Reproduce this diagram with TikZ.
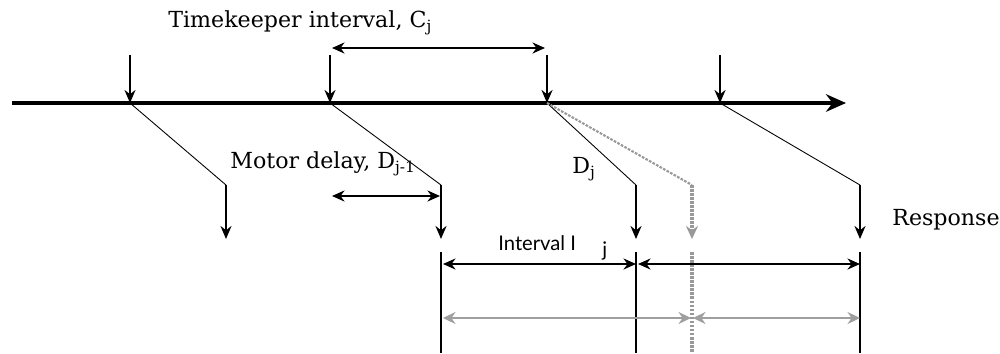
\documentclass[tikz,border=0pt]{standalone}
\usepackage{fontspec}
\setmainfont{DejaVu Serif}
\newfontfamily\labelsans{Lato}
\usepackage{tikz}
\usetikzlibrary{arrows.meta,positioning}

\begin{document}
\begin{tikzpicture}[
  x=0.02cm, y=-0.02cm,
  every node/.style={inner sep=0pt, font=\fontsize{12.6}{15}\selectfont},
  axis/.style={-{Stealth[length=4mm,width=3.5mm]}, line width=2.4pt},
  tick/.style={-{Stealth[length=2.6mm,width=2.2mm]}, line width=1.6pt},
  delay/.style={line width=0.5pt},
  span/.style={{Stealth[length=2.5mm,width=2.2mm]}-{Stealth[length=2.5mm,width=2.2mm]}, line width=1.4pt},
  shadow/.style={{Stealth[length=2.5mm,width=2.4mm]}-{Stealth[length=2.5mm,width=2.4mm]}, line width=1.2pt, gray!75},
  guide/.style={line width=0.7pt},
  late/.style={gray!80, dash pattern=on 1.5pt off 0.8pt}
]
  \useasboundingbox (0,0) rectangle (1000,353);

  % time line and clock ticks
  \coordinate (start) at (12,103);
  \coordinate (end) at (846,103);
  \draw[axis] (start) -- (end);
  \foreach \n/\x in {1/130,2/330,3/547,4/720} {
    \coordinate (c\n) at (\x,103);
    \coordinate (top\n) at (\x,55);
    \draw[tick] (top\n) -- (c\n);
  }

  % motor delays and responses
  \foreach \n/\x in {1/226,2/441,3/636,4/860} {
    \coordinate (b\n) at (\x,185);
    \coordinate (r\n) at (\x,239);
    \draw[delay] (c\n) -- (b\n);
    \draw[tick] (b\n) -- (r\n);
  }
  \coordinate (bx) at (692,185);
  \coordinate (rx) at (692,239);
  \draw[late, line width=1.2pt] (c3) -- (bx);
  \draw[late, line width=2.2pt, -{Stealth[length=2.6mm,width=2.4mm]}] (bx) -- (rx);

  % interval guides
  \foreach \n in {2,3,4} {
    \draw[guide] (r\n |- 0,252) -- (r\n |- 0,353);
  }
  \draw[late, line width=2.2pt] (692,252) -- (692,353);

  % spans
  \coordinate (k2) at (332,48);
  \coordinate (k3) at (545,48);
  \draw[span] (k2) -- (k3);
  \coordinate (m1) at (332,196);
  \coordinate (m2) at (440,196);
  \draw[span] (m1) -- (m2);
  \coordinate (i2) at (443,264);
  \coordinate (i3) at (636,264);
  \coordinate (i3b) at (638,264);
  \coordinate (i4) at (860,264);
  \draw[span] (i2) -- (i3);
  \draw[span] (i3b) -- (i4);
  \coordinate (s2) at (443,318);
  \coordinate (sx) at (691,318);
  \coordinate (sxb) at (693,318);
  \coordinate (s4) at (860,318);
  \draw[shadow] (s2) -- (sx);
  \draw[shadow] (sxb) -- (s4);

  % labels
  \node[anchor=base west] (keeper) at (168,27) {Timekeeper interval, C\textsubscript{j}};
  \node[anchor=base west] (motor) at (230,168) {Motor delay, D\textsubscript{j-1}};
  \node[anchor=base west] (dj) at (572,173) {D\textsubscript{j}};
  \node[anchor=base west] (resp) at (892,225) {Response};
  \node[anchor=base west, font=\labelsans\fontsize{11.5}{13}\selectfont] (ivl) at (498,250) {Interval I\hspace{1.3em}\raisebox{-0.6ex}{j}};
\end{tikzpicture}
\end{document}
